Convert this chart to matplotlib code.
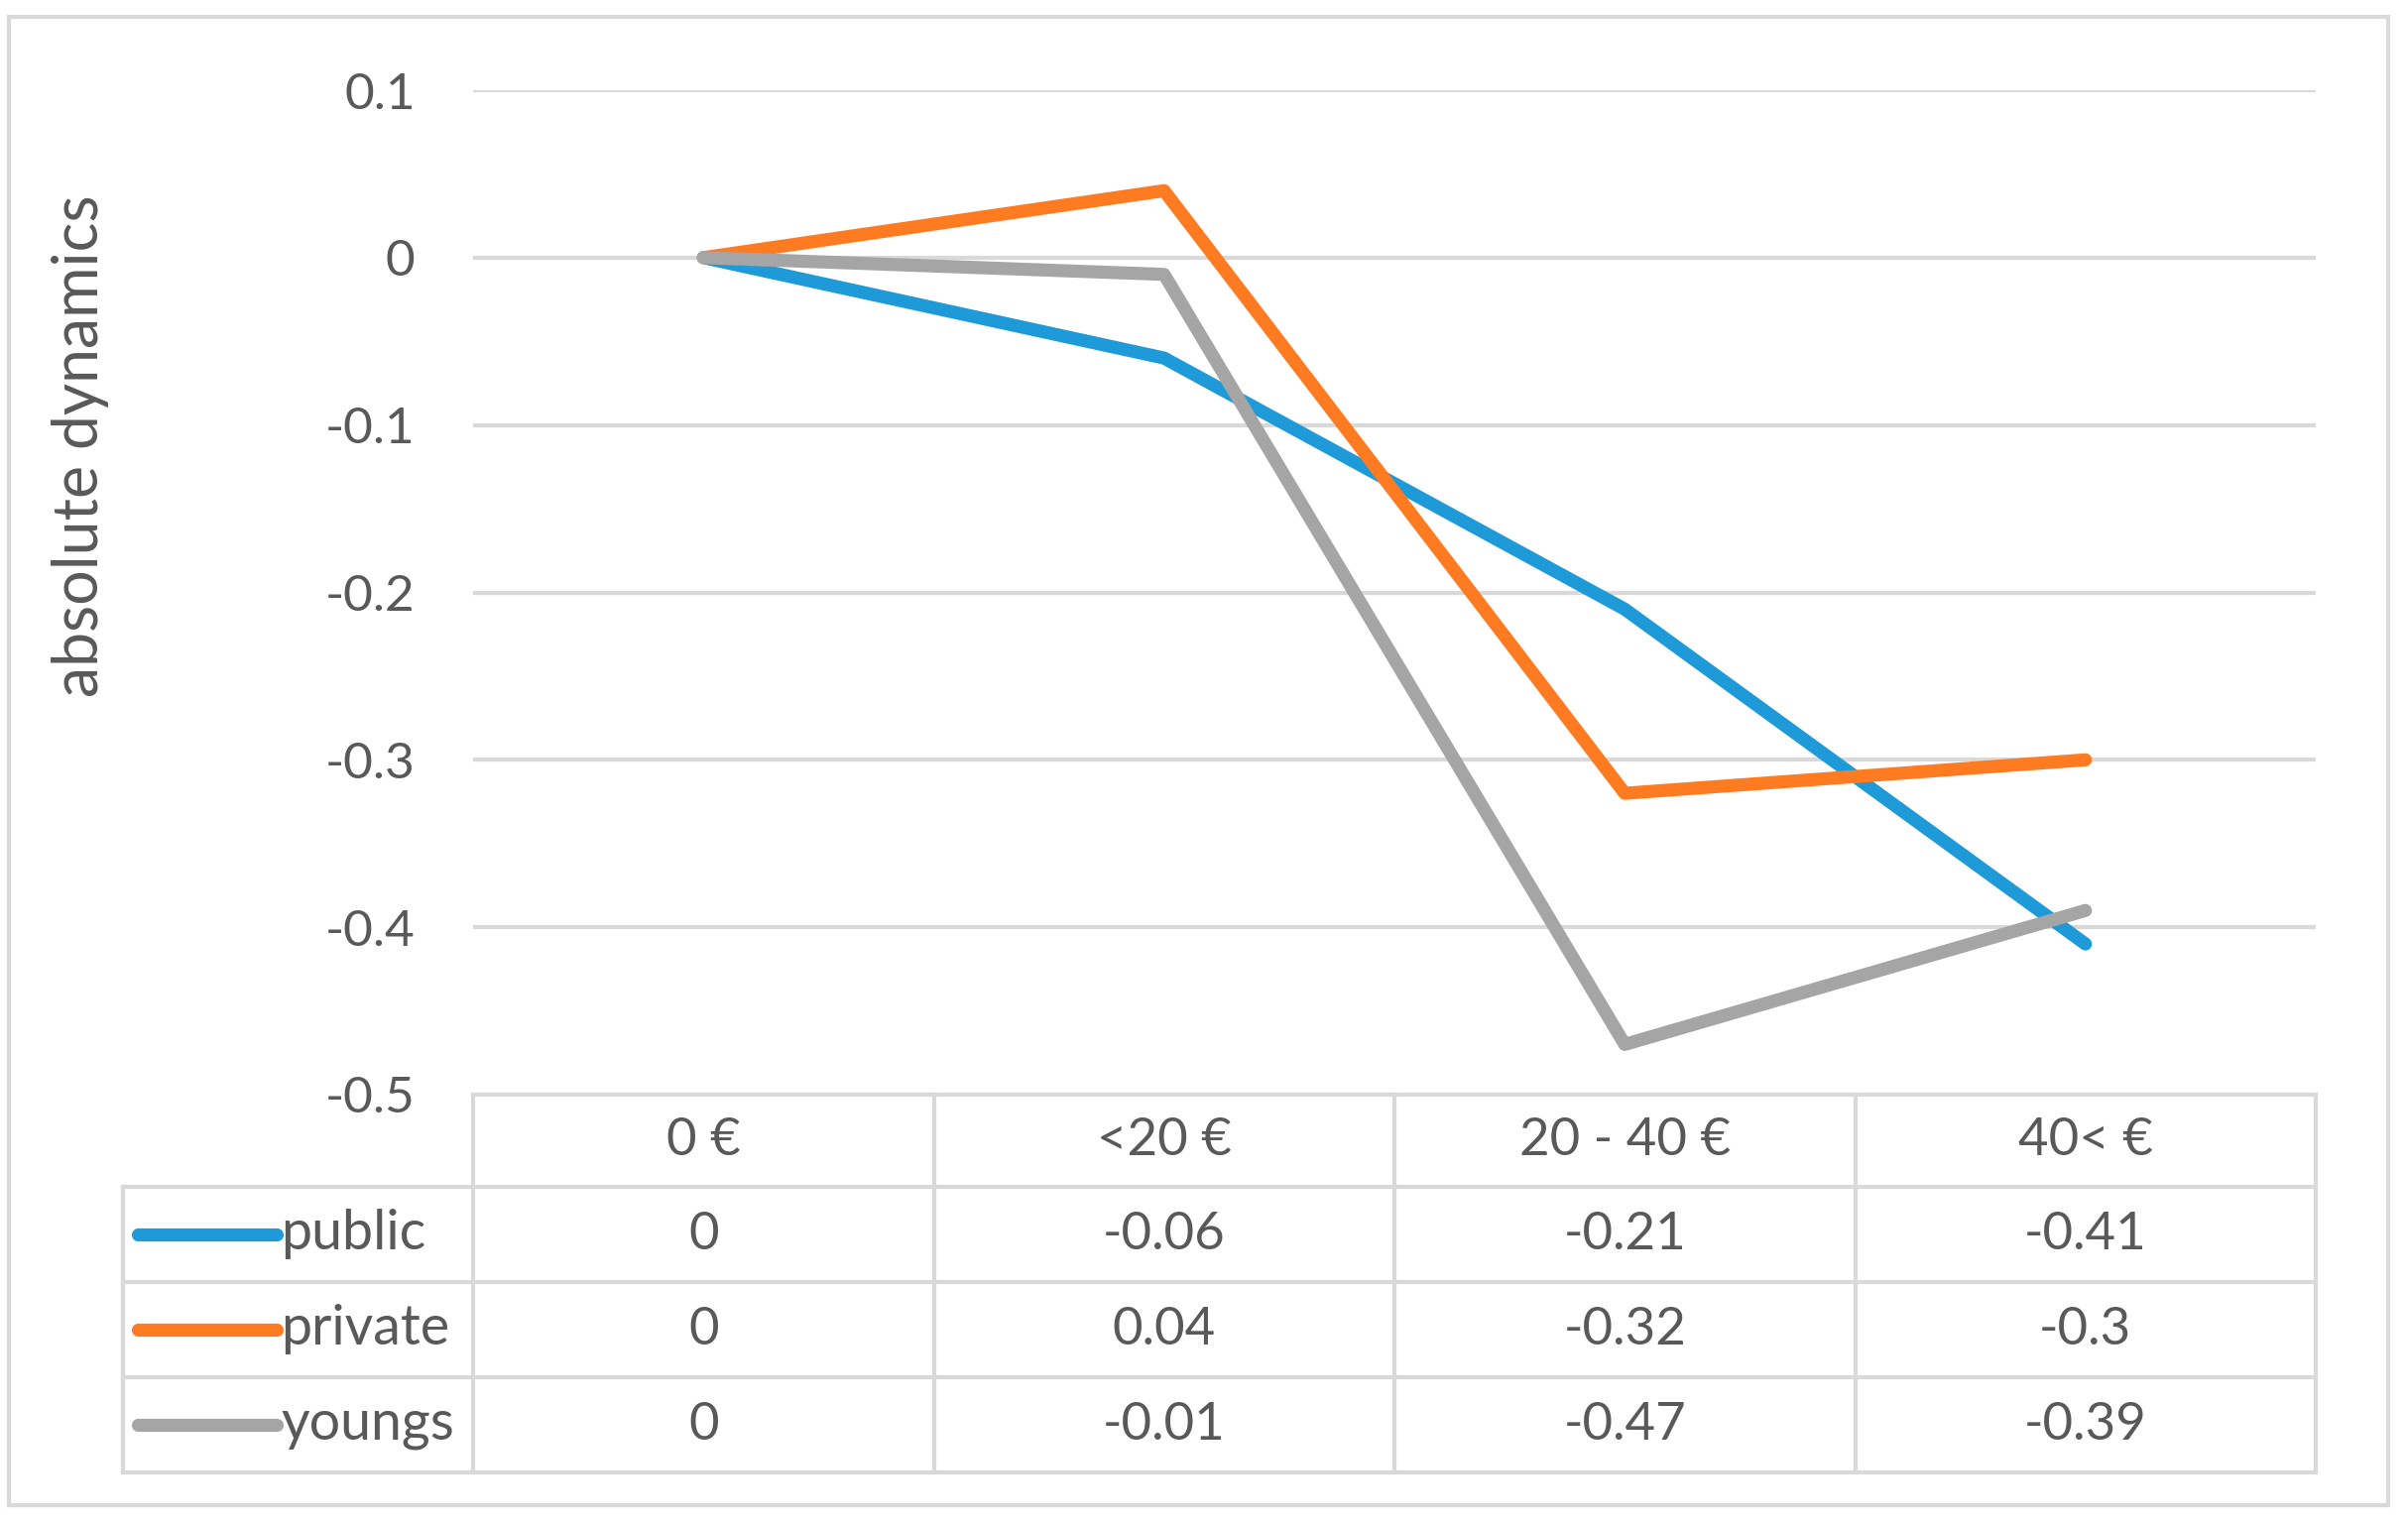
import matplotlib
matplotlib.use("Agg")
import matplotlib.pyplot as plt
from matplotlib.transforms import blended_transform_factory
from matplotlib.patches import Rectangle
from matplotlib.lines import Line2D

# ---- data ----
categories = ["0 €", "<20 €", "20 - 40 €", "40< €"]
series_names = ["public", "private", "youngs"]
public = [0, -0.06, -0.21, -0.41]
private = [0, 0.04, -0.32, -0.3]
youngs = [0, -0.01, -0.47, -0.39]
y_ticks = [0.1, 0, -0.1, -0.2, -0.3, -0.4, -0.5]
y_label = "absolute dynamics"

series_values = [public, private, youngs]
colors = ["#1F9AD8", "#FF7B22", "#A5A5A5"]

plt.rcParams['font.family'] = ['Lato', 'DejaVu Sans']
TXT = "#595959"
GRID = "#D9D9D9"
FS = 37

W, H = 2428, 1533
fig = plt.figure(figsize=(W / 100, H / 100), dpi=100)

def fx(px):
    return px / W

def fy(py):
    return 1 - py / H

ax_l, ax_r, ax_t, ax_b = 477, 2335, 91, 1104
ax = fig.add_axes([fx(ax_l), fy(ax_b), fx(ax_r - ax_l), (ax_b - ax_t) / H])
x = list(range(len(categories)))
for vals, c, n in zip(series_values, colors, series_names):
    ax.plot(x, vals, color=c, lw=9.5, solid_joinstyle='round',
            solid_capstyle='round', label=n, zorder=3)

ax.set_xlim(-0.5, len(categories) - 0.5)
ax.set_ylim(min(y_ticks), max(y_ticks))
ax.set_yticks(y_ticks)
ax.set_yticklabels([f"{v:g}" for v in y_ticks])
ax.tick_params(axis='y', length=0, pad=42, labelsize=FS, labelcolor=TXT)
ax.tick_params(axis='x', length=0, labelbottom=False)
ax.grid(axis='y', color=GRID, lw=3)
ax.set_axisbelow(True)
for s in ax.spines.values():
    s.set_visible(False)
ax.set_ylabel(y_label, fontsize=45, color=TXT, labelpad=0)
ax.yaxis.set_label_coords((110 - ax_l) / (ax_r - ax_l), (ax_b - 450) / (ax_b - ax_t))

# ---- data table ----
tr = blended_transform_factory(ax.transData, fig.transFigure)
row_edges = [1104, 1197, 1293, 1389, 1485]
tab_left = 124
lkw = dict(color=GRID, lw=3, transform=fig.transFigure, clip_on=False, zorder=1)
# header row borders
fig.add_artist(Line2D([fx(ax_l), fx(ax_r)], [fy(row_edges[0])] * 2, **lkw))
for e in row_edges[1:]:
    fig.add_artist(Line2D([fx(tab_left), fx(ax_r)], [fy(e)] * 2, **lkw))
# vertical lines
fig.add_artist(Line2D([fx(tab_left)] * 2, [fy(row_edges[1]), fy(row_edges[-1])], **lkw))
for i in range(len(categories) + 1):
    xb = i - 0.5
    fig.add_artist(Line2D([xb, xb], [fy(row_edges[0]), fy(row_edges[-1])],
                          color=GRID, lw=3, transform=tr, clip_on=False))
# header texts
hc = (row_edges[0] + row_edges[1]) / 2
for i, c in enumerate(categories):
    fig.text(i, fy(hc), c, transform=tr, ha='center', va='center',
             fontsize=FS + 1, color=TXT)
# rows
for r, (vals, c, n) in enumerate(zip(series_values, colors, series_names)):
    yc = (row_edges[r + 1] + row_edges[r + 2]) / 2
    fig.add_artist(Line2D([fx(139), fx(279)], [fy(yc)] * 2, color=c, lw=9.5,
                          solid_capstyle='round', transform=fig.transFigure))
    fig.text(fx(283), fy(yc), n, ha='left', va='center', fontsize=FS + 3, color=TXT)
    for i, v in enumerate(vals):
        fig.text(i, fy(yc), f"{v:g}", transform=tr, ha='center', va='center',
                 fontsize=FS + 1, color=TXT)

# outer frame
fig.add_artist(Rectangle((fx(9), fy(1518)), fx(2408 - 9), (1518 - 17) / H,
                         fill=False, edgecolor=GRID, lw=3,
                         transform=fig.transFigure))

fig.savefig("out.png", dpi=100, facecolor="white")
